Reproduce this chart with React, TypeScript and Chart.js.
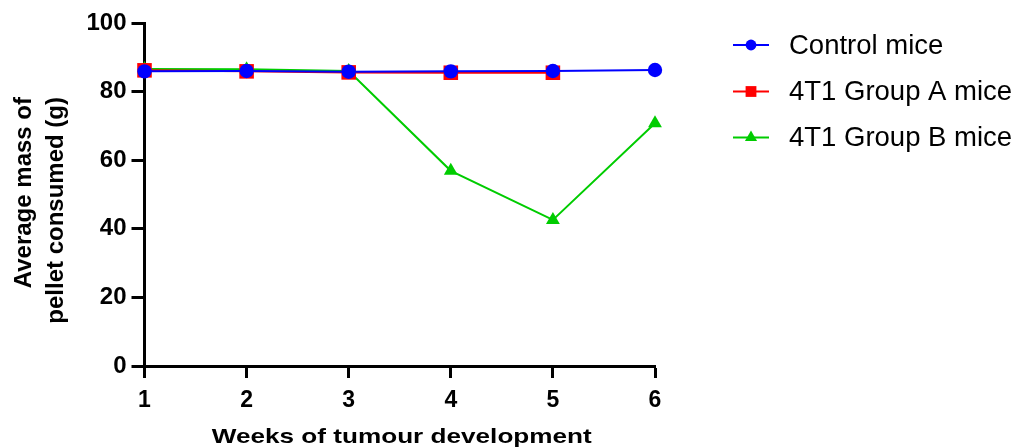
import React, { useEffect, useRef } from 'react';
import { Chart, registerables } from 'chart.js';

Chart.register(...registerables);

const weeks = [1, 2, 3, 4, 5, 6];
const controlMice = [85.9, 86.0, 85.8, 85.9, 86.0, 86.3];
const groupAMice = [86.2, 85.9, 85.6, 85.5, 85.5];
const groupBMice = [86.6, 86.5, 86.0, 56.9, 42.6, 70.8];
const seriesNames = ['Control mice', '4T1 Group A mice', '4T1 Group B mice'];
const seriesColors = ['#0000FF', '#FF0000', '#00CC00'];
const seriesMarkers = ['circle', 'rect', 'triangle'];
const xTitle = 'Weeks of tumour development';
const yTitleLines = ['Average mass of', 'pellet consumed (g)'];
const yMin = 0;
const yMax = 100;
const yStep = 20;

const FONT = '"Liberation Sans", Arial, Helvetica, sans-serif';

function toPoints(vals: number[]) {
  return vals.map((v, i) => ({ x: weeks[i], y: v }));
}

function drawMarker(ctx: CanvasRenderingContext2D, style: string, x: number, y: number, color: string, size: number) {
  ctx.save();
  ctx.fillStyle = color;
  ctx.beginPath();
  if (style === 'circle') {
    ctx.arc(x, y, size, 0, Math.PI * 2);
  } else if (style === 'rect') {
    ctx.rect(x - size, y - size, size * 2, size * 2);
  } else {
    const r = size * 1.25;
    for (let k = 0; k < 3; k++) {
      const a = (k * 2 * Math.PI) / 3;
      const px = x + Math.sin(a) * r;
      const py = y - Math.cos(a) * r;
      if (k === 0) ctx.moveTo(px, py);
      else ctx.lineTo(px, py);
    }
    ctx.closePath();
  }
  ctx.fill();
  ctx.restore();
}

const decorPlugin = {
  id: 'decor',
  afterDraw(chart: any) {
    const ctx: CanvasRenderingContext2D = chart.ctx;
    const area = chart.chartArea;
    // X axis title (horizontally widened like the reference)
    ctx.save();
    ctx.fillStyle = '#000';
    ctx.font = `bold 21px ${FONT}`;
    ctx.textAlign = 'center';
    ctx.textBaseline = 'alphabetic';
    const cx = (area.left + area.right) / 2 + 2;
    const w = ctx.measureText(xTitle).width;
    const sx = w > 0 ? 380 / w : 1;
    ctx.translate(cx, 443);
    ctx.scale(sx, 1);
    ctx.fillText(xTitle, 0, 0);
    ctx.restore();

    // Y axis title (rotated)
    ctx.save();
    ctx.fillStyle = '#000';
    ctx.font = `bold 24px ${FONT}`;
    ctx.textAlign = 'right';
    ctx.textBaseline = 'alphabetic';
    const baselines = [31, 63];
    yTitleLines.forEach((line, i) => {
      ctx.save();
      ctx.translate(baselines[i], 97);
      ctx.rotate(-Math.PI / 2);
      ctx.fillText(line, 0, 0);
      ctx.restore();
    });
    ctx.restore();

    // Legend
    const rows = [45, 91.5, 137.5];
    ctx.save();
    seriesNames.forEach((name, i) => {
      const y = rows[i];
      ctx.strokeStyle = seriesColors[i];
      ctx.lineWidth = 2;
      ctx.beginPath();
      ctx.moveTo(733, y);
      ctx.lineTo(769, y);
      ctx.stroke();
      drawMarker(ctx, seriesMarkers[i], 751, y, seriesColors[i], seriesMarkers[i] === 'triangle' ? 5.6 : 5.4);
      ctx.fillStyle = '#000';
      ctx.font = `27.5px ${FONT}`;
      ctx.textAlign = 'left';
      ctx.textBaseline = 'middle';
      ctx.fillText(name, 789, y + 1);
    });
    ctx.restore();
  },
};

export default function App() {
  const canvasRef = useRef<HTMLCanvasElement | null>(null);

  useEffect(() => {
    document.body.style.margin = '0';
    const canvas = canvasRef.current;
    if (!canvas) return;
    const data = [controlMice, groupAMice, groupBMice];
    const radii = [7.2, 10.3, 8];
    const chart = new Chart(canvas, {
      type: 'line',
      data: {
        datasets: seriesNames.map((name, i) => ({
          label: name,
          data: toPoints(data[i]),
          borderColor: seriesColors[i],
          backgroundColor: seriesColors[i],
          pointBackgroundColor: seriesColors[i],
          pointBorderColor: seriesColors[i],
          pointBorderWidth: 0,
          pointStyle: seriesMarkers[i] as any,
          pointRadius: radii[i],
          pointHoverRadius: radii[i],
          borderWidth: 2,
          tension: 0,
          fill: false,
          clip: false as any,
        })),
      },
      options: {
        animation: false,
        responsive: true,
        maintainAspectRatio: false,
        layout: { padding: { left: 0, top: 23, right: 364, bottom: 0 } },
        plugins: {
          legend: { display: false },
          tooltip: { enabled: false },
          title: { display: false },
        },
        scales: {
          x: {
            type: 'linear',
            min: weeks[0],
            max: weeks[weeks.length - 1],
            ticks: {
              stepSize: 1,
              color: '#000',
              font: { family: FONT, size: 23, weight: 'bold' },
              padding: 9,
              maxRotation: 0,
            },
            grid: {
              display: true,
              drawOnChartArea: false,
              drawTicks: true,
              tickLength: 12,
              tickColor: '#000',
              tickWidth: 3,
            },
            border: { display: true, color: '#000', width: 3 },
            afterFit: (s: any) => {
              s.height = 82;
            },
          },
          y: {
            min: yMin,
            max: yMax,
            ticks: {
              stepSize: yStep,
              color: '#000',
              font: { family: FONT, size: 24, weight: 'bold' },
              padding: 5,
            },
            grid: {
              display: true,
              drawOnChartArea: false,
              drawTicks: true,
              tickLength: 13,
              tickColor: '#000',
              tickWidth: 3,
            },
            border: { display: true, color: '#000', width: 3 },
            afterFit: (s: any) => {
              s.width = 144.5;
            },
          },
        },
      },
      plugins: [decorPlugin],
    });
    return () => chart.destroy();
  }, []);

  return (
    <div style={{ position: 'absolute', left: 0, top: 0, width: 1019, height: 448, background: '#fff' }}>
      <canvas ref={canvasRef} />
    </div>
  );
}
